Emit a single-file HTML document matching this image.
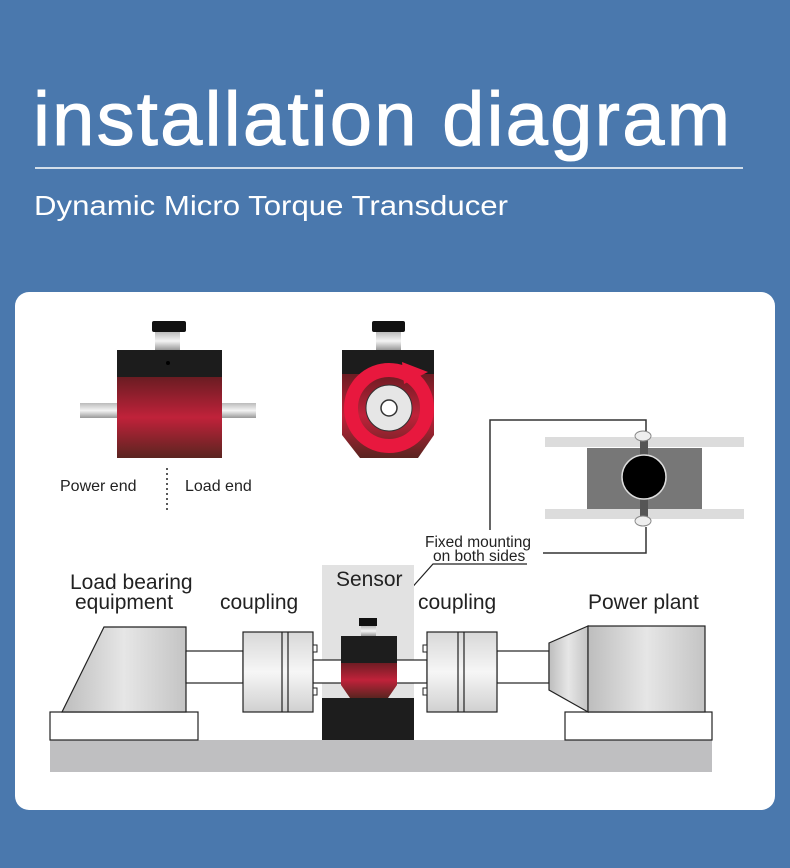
<!DOCTYPE html>
<html><head><meta charset="utf-8"><style>
body{margin:0;width:790px;height:868px;background:#4a78ad;overflow:hidden;font-family:"Liberation Sans",sans-serif}
</style></head><body>
<svg width="790" height="868" xmlns="http://www.w3.org/2000/svg" style="position:absolute;left:0;top:0">
<defs>
<linearGradient id="red" x1="0" y1="0" x2="0" y2="1"><stop offset="0" stop-color="#6a1c22"/><stop offset="0.5" stop-color="#c0223a"/><stop offset="1" stop-color="#5a2420"/></linearGradient>
<linearGradient id="sh" x1="0" y1="0" x2="0" y2="1"><stop offset="0" stop-color="#bbb"/><stop offset="0.5" stop-color="#f4f4f4"/><stop offset="1" stop-color="#999"/></linearGradient>
<linearGradient id="gr" x1="0" y1="0" x2="1" y2="0"><stop offset="0" stop-color="#bdbdbd"/><stop offset="0.5" stop-color="#e6e6e6"/><stop offset="1" stop-color="#c4c4c4"/></linearGradient>
<linearGradient id="cp" x1="0" y1="0" x2="0" y2="1"><stop offset="0" stop-color="#d8d8d8"/><stop offset="0.5" stop-color="#f6f6f6"/><stop offset="1" stop-color="#d0d0d0"/></linearGradient>
</defs>
<text x="33" y="145" fill="#fff" font-size="76" font-family="Liberation Sans, sans-serif" textLength="697" stroke="#fff" stroke-width="1">installation diagram</text>
<line x1="35" y1="168" x2="743" y2="168" stroke="#fff" stroke-width="1.5"/>
<text x="34" y="215" fill="#fff" font-size="28" textLength="474" lengthAdjust="spacingAndGlyphs">Dynamic Micro Torque Transducer</text>
<rect x="15" y="292" width="760" height="518" rx="14" fill="#fff"/>
<rect x="80" y="403" width="37" height="15" fill="url(#sh)"/>
<rect x="222" y="403" width="34" height="15" fill="url(#sh)"/>
<rect x="155" y="332" width="25" height="18" fill="url(#sh)"/>
<rect x="152" y="321" width="34" height="11" rx="2" fill="#111"/>
<rect x="117" y="350" width="105" height="28" fill="#1c1c1c"/>
<rect x="117" y="377" width="105" height="81" fill="url(#red)"/>
<circle cx="168" cy="363" r="2" fill="#000"/>
<text x="60" y="491" font-size="16" fill="#222">Power  end</text>
<line x1="167" y1="468" x2="167" y2="510" stroke="#222" stroke-width="1.5" stroke-dasharray="2,3"/>
<text x="185" y="491" font-size="16" fill="#222">Load end</text>
<rect x="376" y="332" width="25" height="18" fill="url(#sh)"/>
<rect x="372" y="321" width="33" height="11" rx="2" fill="#111"/>
<polygon points="342,373 434,373 434,435 418,458 360,458 342,435" fill="url(#red)"/>
<rect x="342" y="350" width="92" height="24" fill="#1c1c1c"/>
<circle cx="389" cy="408" r="38" fill="none" stroke="#e8183e" stroke-width="14"/>
<polygon points="402,362 428,372 404,384" fill="#e8183e"/>
<circle cx="389" cy="408" r="23" fill="#e6e6e6" stroke="#333" stroke-width="1"/>
<circle cx="389" cy="408" r="8" fill="#fff" stroke="#333" stroke-width="1.5"/>
<rect x="545" y="437" width="199" height="10" fill="#dcdcdc"/>
<rect x="545" y="509" width="199" height="10" fill="#dcdcdc"/>
<rect x="587" y="448" width="115" height="61" fill="#777"/>
<rect x="640" y="440" width="8" height="84" fill="#555"/>
<circle cx="644" cy="477" r="22" fill="#000" stroke="#ddd" stroke-width="1.5"/>
<ellipse cx="643" cy="436" rx="8" ry="5" fill="#eee" stroke="#888"/>
<ellipse cx="643" cy="521" rx="8" ry="5" fill="#eee" stroke="#888"/>
<polyline points="490,530 490,420 646,420 646,431" fill="none" stroke="#333" stroke-width="1.5"/>
<polyline points="543,553 646,553 646,527" fill="none" stroke="#333" stroke-width="1.5"/>
<text x="425" y="547" font-size="15.5" fill="#222">Fixed mounting</text>
<text x="433" y="561" font-size="15.5" fill="#222">on both sides</text>
<polyline points="527,564 433,564 368,637" fill="none" stroke="#222" stroke-width="1.2"/>
<rect x="322" y="565" width="92" height="175" fill="#e2e2e2"/>
<rect x="50" y="740" width="662" height="32" fill="#bfbfc1"/>
<rect x="50" y="712" width="148" height="28" fill="#fff" stroke="#222" stroke-width="1.2"/>
<rect x="565" y="712" width="147" height="28" fill="#fff" stroke="#222" stroke-width="1.2"/>
<polygon points="62,712 104,627 186,627 186,712" fill="url(#gr)" stroke="#222" stroke-width="1.2"/>
<rect x="186" y="651" width="57" height="32" fill="#fff" stroke="#222" stroke-width="1.2"/>
<rect x="497" y="651" width="52" height="32" fill="#fff" stroke="#222" stroke-width="1.2"/>
<rect x="313" y="660" width="114" height="23" fill="#fff" stroke="#222" stroke-width="1.2"/>
<rect x="243" y="632" width="70" height="80" fill="url(#cp)" stroke="#222" stroke-width="1.2"/>
<line x1="282" y1="632" x2="282" y2="712" stroke="#222" stroke-width="1.2"/>
<line x1="288" y1="632" x2="288" y2="712" stroke="#222" stroke-width="1.2"/>
<rect x="313" y="645" width="4" height="7" fill="#fff" stroke="#222"/>
<rect x="313" y="688" width="4" height="7" fill="#fff" stroke="#222"/>
<rect x="427" y="632" width="70" height="80" fill="url(#cp)" stroke="#222" stroke-width="1.2"/>
<line x1="458" y1="632" x2="458" y2="712" stroke="#222" stroke-width="1.2"/>
<line x1="464" y1="632" x2="464" y2="712" stroke="#222" stroke-width="1.2"/>
<rect x="423" y="645" width="4" height="7" fill="#fff" stroke="#222"/>
<rect x="423" y="688" width="4" height="7" fill="#fff" stroke="#222"/>
<polygon points="549,643 588,626 588,712 549,690" fill="url(#gr)" stroke="#222" stroke-width="1.2"/>
<rect x="588" y="626" width="117" height="86" fill="url(#gr)" stroke="#222" stroke-width="1.2"/>
<rect x="322" y="698" width="92" height="42" fill="#1d1d1d"/>
<polygon points="341,662 397,662 397,685 388,698 350,698 341,685" fill="url(#red)"/>
<rect x="341" y="636" width="56" height="27" fill="#1d1d1d"/>
<rect x="361" y="626" width="15" height="10" fill="url(#sh)"/>
<rect x="359" y="618" width="18" height="8" fill="#111"/>
<text x="70" y="589" font-size="21" fill="#222">Load bearing</text>
<text x="75" y="609" font-size="21" fill="#222">equipment</text>
<text x="220" y="609" font-size="21" fill="#222">coupling</text>
<text x="336" y="586" font-size="21" fill="#222">Sensor</text>
<text x="418" y="609" font-size="21" fill="#222">coupling</text>
<text x="588" y="609" font-size="21" fill="#222">Power plant</text>
</svg>
</body></html>
